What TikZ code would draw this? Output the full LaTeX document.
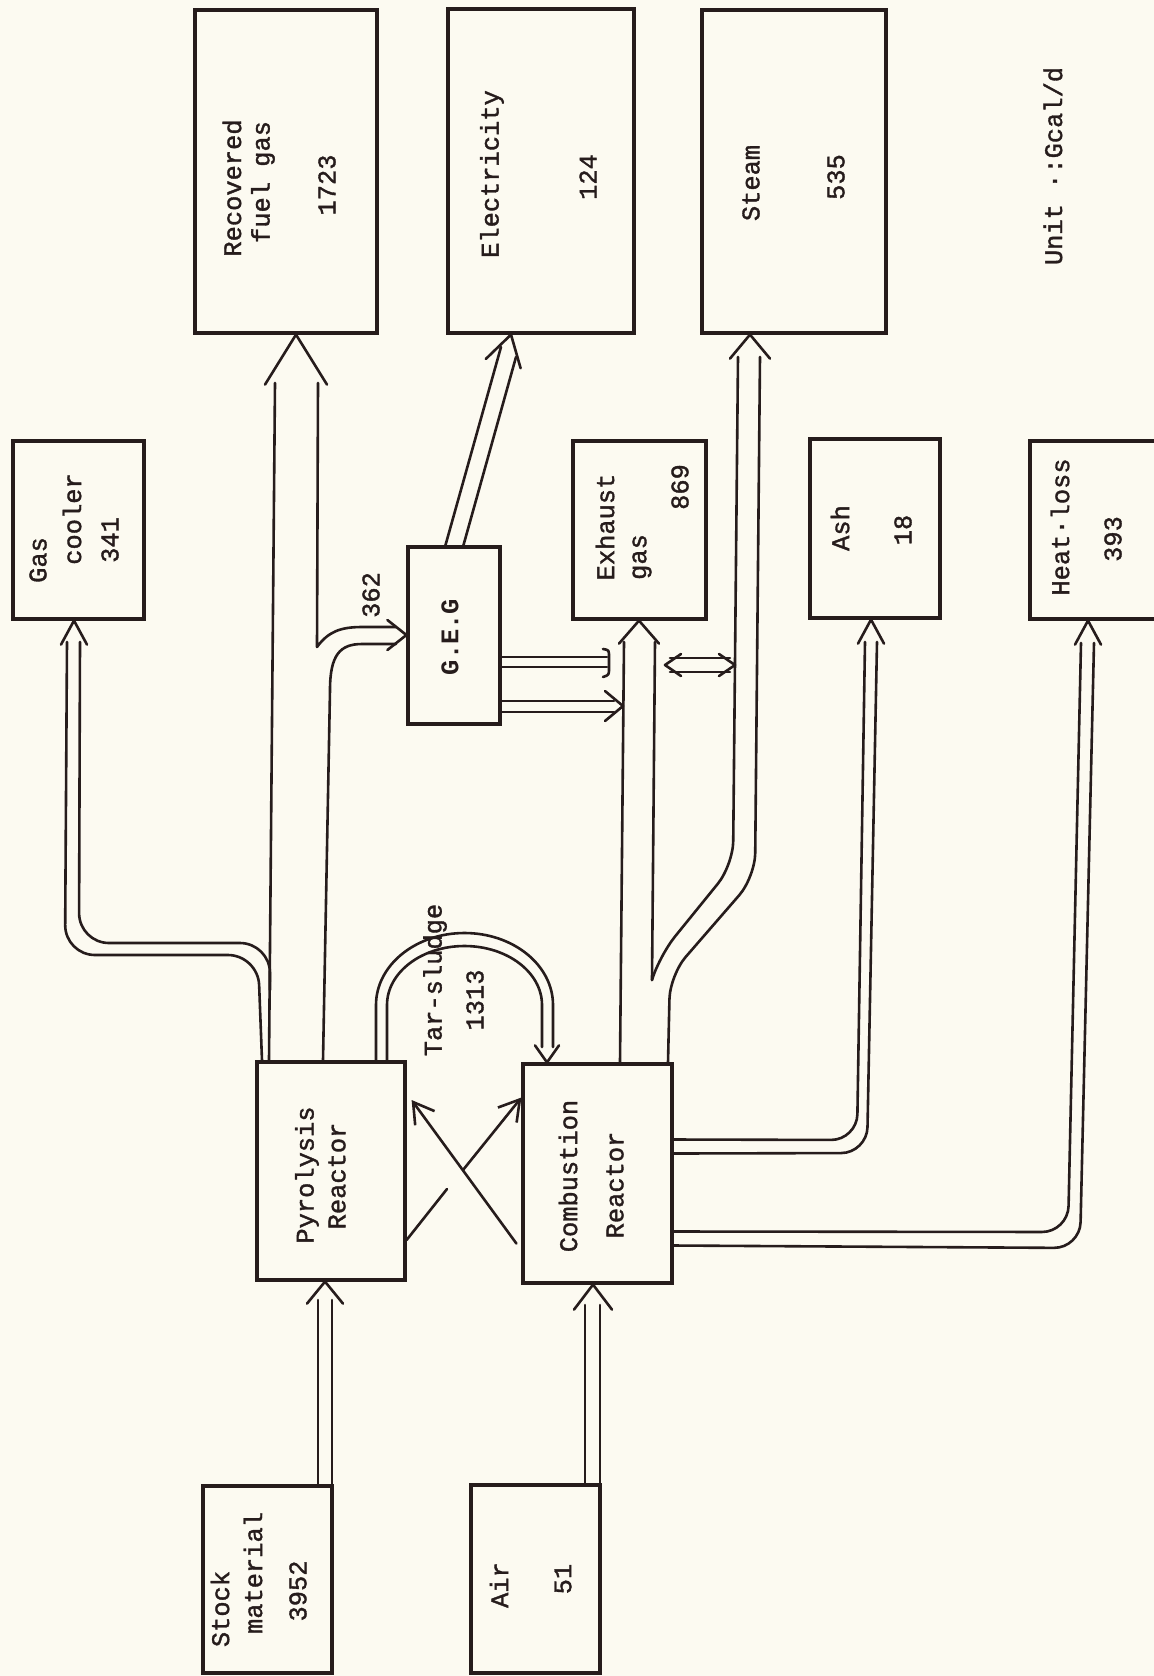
\documentclass[tikz,border=0pt]{standalone}
\usepackage{fontspec}
\newfontfamily\typew{Liberation Mono}[FakeBold=1.4]
\newfontfamily\typewb{Liberation Mono Bold}
\usetikzlibrary{arrows.meta,calc,fit}
\definecolor{ink}{RGB}{38,28,28}
\definecolor{paper}{RGB}{252,250,241}
\tikzset{
  box/.style  = {draw=ink, line width=1.6pt, inner sep=0pt},
  txt/.style  = {font=\typew\fontsize{12.7}{14}\selectfont, text=ink, rotate=90, inner sep=0pt},
  pipe/.style = {draw=ink, line width=1.3pt, line join=round, line cap=round},
  ray/.style  = {pipe, -{Straight Barb[length=10pt,width=12pt]}},
  pics/vhead/.style 2 args = {code={\draw[pipe] (-#1,#2) -- (0,0) -- (#1,#2);}},
}

\begin{document}
\begin{tikzpicture}[x=0.5pt,y=-0.5pt]
  \clip (0,0) rectangle (1154,1676);
  \fill[paper] (0,0) rectangle (1154,1676);

  % boxes
  \node[box, fit={(13,441) (144,619)}]   (gc)  {};
  \node[box, fit={(195,10) (377,333)}]   (rec) {};
  \node[box, fit={(448,9) (634,333)}]    (ele) {};
  \node[box, fit={(702,10) (886,333)}]   (stm) {};
  \node[box, fit={(408,547) (500,724)}]  (geg) {};
  \node[box, fit={(573,441) (706,619)}]  (exh) {};
  \node[box, fit={(810,439) (940,618)}]  (ash) {};
  \node[box, fit={(1030,441) (1190,619)}] (hl) {};
  \node[box, fit={(257,1062) (405,1280)}] (pyr) {};
  \node[box, fit={(523,1064) (672,1283)}] (cmb) {};
  \node[box, fit={(203,1486) (332,1673)}] (stk) {};
  \node[box, fit={(471,1485) (600,1673)}] (air) {};

  % texts
  \node[txt] (gcA)  at (38,560)  {Gas};
  \node[txt] (gcB)  at (72,519)  {cooler};
  \node[txt] (gcC)  at (110,540) {341};
  \node[txt] (recA) at (232,188) {Recovered};
  \node[txt] (recB) at (263,182) {fuel gas};
  \node[txt] (recC) at (327,185) {1723};
  \node[txt] (eleA) at (492,174) {Electricity};
  \node[txt] (eleB) at (588,177) {124};
  \node[txt] (stmA) at (751,183) {Steam};
  \node[txt] (stmB) at (836,177) {535};
  \node[txt] (unit) at (1053,166) {Unit ·:Gcal/d};
  \node[txt, font=\typewb\fontsize{12.7}{14}\selectfont] (gegA) at (450,637) {G.E.G};
  \node[txt] (q362) at (371,595) {362};
  \node[txt] (exhA) at (605,527) {Exhaust};
  \node[txt] (exhB) at (642,557) {gas};
  \node[txt] (exhC) at (680,487) {869};
  \node[txt] (ashA) at (840,528) {Ash};
  \node[txt] (ashB) at (903,530) {18};
  \node[txt] (hlA)  at (1060,527) {Heat·loss};
  \node[txt] (hlB)  at (1113,539) {393};
  \node[txt] (tarA) at (435,980) {Tar-sludge};
  \node[txt] (tarB) at (475,1000) {1313};
  \node[txt] (pyrA) at (307,1175) {Pyrolysis};
  \node[txt] (pyrB) at (337,1176) {Reactor};
  \node[txt] (cmbA) at (568,1176) {Combustion};
  \node[txt] (cmbB) at (615,1185) {Reactor};
  \node[txt] (stkA) at (220,1609) {Stock};
  \node[txt] (stkB) at (253,1573) {material};
  \node[txt] (stkC) at (298,1591) {3952};
  \node[txt] (airA) at (499,1585) {Air};
  \node[txt] (airB) at (563,1579) {51};

  % stock and air inputs
  \draw[pipe] (318,0 |- stk.north) -- (318,1300);
  \draw[pipe] (332,0 |- stk.north) -- (332,1300);
  \pic at (325,0 |- pyr.south) {vhead={18}{22}};
  \draw[pipe] (585,0 |- air.north) -- (585,1305);
  \draw[pipe] (600,0 |- air.north) -- (600,1305);
  \pic at (593,0 |- cmb.south) {vhead={19}{25}};

  % gas cooler
  \draw[pipe, rounded corners=15pt] (67,642) -- (65,955) -- (258,955) -- (262,0 |- pyr.north);
  \draw[pipe, rounded corners=15pt] (80,642) -- (79,943) -- (270,943) -- (270,990);
  \pic at (74,0 |- gc.south) {vhead={13}{24}};

  % recovered fuel gas, 362 to G.E.G
  \draw[pipe] (269,0 |- pyr.north) -- (275,383);
  \draw[pipe] (318,383) -- (317,647) .. controls (328,632) and (340,627) .. (362,627) -- (396,627);
  \pic at (296,0 |- rec.south) {vhead={31}{50}};
  \draw[pipe] (323,0 |- pyr.north) -- (330,690) .. controls (330,655) and (340,644) .. (362,644) -- (396,644);
  \pic[rotate=-90] at (geg.west |- 0,635) {vhead={15}{19}};

  % tar-sludge
  \draw[pipe] (376,0 |- pyr.north) -- (376,1005)
    arc[start angle=180, end angle=360, x radius=88.5, y radius=72] -- (553,1047);
  \draw[pipe] (387,0 |- pyr.north) -- (387,1005)
    arc[start angle=180, end angle=360, x radius=77.5, y radius=59] -- (542,1047);
  \pic[rotate=180] at (547,0 |- cmb.north) {vhead={12}{17}};

  % crossing arrows between reactors
  \draw[ray] ($(cmb.west)+(-5,70)$) -- ($(pyr.east)+(5,-71)$);
  \draw[pipe] ($(pyr.east)+(0,69)$) -- (447,1189);
  \draw[ray] (463,1170) -- ($(cmb.west)+(0,-76)$);

  % combustion -> exhaust gas, steam
  \draw[pipe] (620,0 |- cmb.north) -- (624,642);
  \draw[pipe] (655,642) -- (652,980);
  \pic at (639,0 |- exh.south) {vhead={20}{23}};
  \draw[pipe, rounded corners=12pt] (738,357) -- (733,865) -- (660,955) -- (652,980);
  \draw[pipe, rounded corners=12pt] (760,357) -- (755,877) -- (670,975) -- (668,0 |- cmb.north);
  \pic at (750,0 |- stm.south) {vhead={20}{24}};

  % G.E.G -> electricity
  \draw[pipe] ($(geg.north west)+(39,0)$) -- (501,347);
  \draw[pipe] ($(geg.north west)+(57,0)$) -- (516,357);
  \pic[rotate=-15] at (511,0 |- ele.south) {vhead={18}{30}};

  % G.E.G -> exhaust pipe
  \draw[pipe] (geg.east |- 0,657) -- (607,657);
  \draw[pipe] (geg.east |- 0,667) -- (607,667);
  \draw[pipe] (603,649) .. controls (609,650) .. (609,657) -- (609,668) .. controls (609,675) .. (603,677);
  \draw[pipe] (geg.east |- 0,701) -- (614,701);
  \draw[pipe] (geg.east |- 0,712) -- (614,712);
  \pic[rotate=-90] at (623,706) {vhead={15}{18}};

  % exhaust <-> steam
  \draw[pipe] (670,658) -- (730,658);
  \draw[pipe] (670,672) -- (730,672);
  \pic[rotate=90] at (665,665) {vhead={11}{16}};
  \pic[rotate=-90] at (735,665) {vhead={11}{16}};

  % combustion -> ash, heat loss
  \draw[pipe, rounded corners=13pt] ($(cmb.east)+(0,-34)$) -- (857,1140) -- (865,642);
  \draw[pipe, rounded corners=13pt] ($(cmb.east)+(0,-20)$) -- (867,1153) -- (877,642);
  \pic at (871,0 |- ash.south) {vhead={13}{24}};
  \draw[pipe, rounded corners=13pt] ($(cmb.east)+(0,58)$) -- (1068,1232) -- (1081,643);
  \draw[pipe, rounded corners=13pt] ($(cmb.east)+(0,72)$) -- (1080,1248) -- (1094,643);
  \pic at (1088,0 |- hl.south) {vhead={13}{24}};
\end{tikzpicture}
\end{document}
